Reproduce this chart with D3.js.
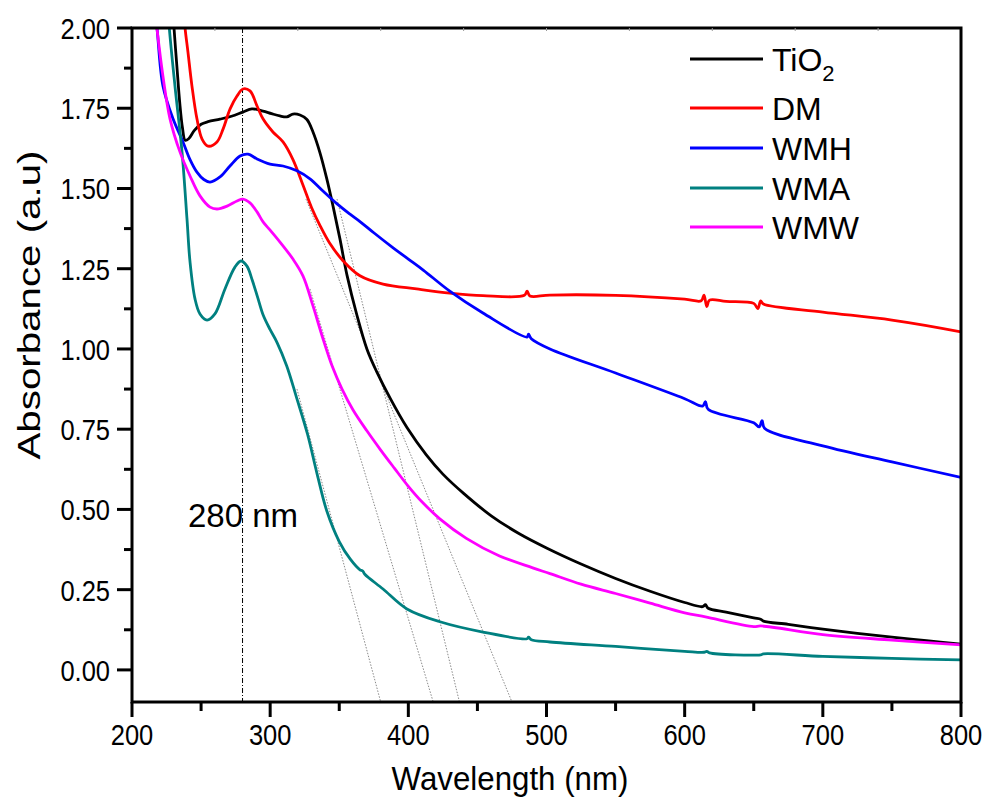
<!DOCTYPE html>
<html>
<head>
<meta charset="utf-8">
<script src="https://cdn.jsdelivr.net/npm/d3@7"></script>
<style>
  html, body { margin: 0; padding: 0; background: #fff; }
  svg { display: block; }
  text { font-family: "Liberation Sans", Arial, Helvetica, sans-serif; fill: #000; }
</style>
</head>
<body>
<svg id="chart" width="987" height="801"></svg>
<script>
// ---------------- DATA ----------------
const seriesNames = ["TiO2", "DM", "WMH", "WMA", "WMW"];
const seriesColors = ["#000000", "#ff0000", "#0000ff", "#008080", "#ff00ff"];

const tio2 = [[229,2.1],[230.4,2.0],[232.5,1.88],[234.5,1.77],[236.5,1.69],[238.5,1.65],[241,1.655],[245,1.68],[250,1.70],[255,1.708],[263.7,1.716],[272,1.725],[280.3,1.738],[286.8,1.748],[294.8,1.741],[301,1.733],[307,1.726],[312,1.723],[316.5,1.732],[321.6,1.729],[326.6,1.715],[331,1.676],[336,1.612],[341,1.53],[345.5,1.445],[350.5,1.343],[355.6,1.23],[362.8,1.105],[370,1.0],[377,0.93],[387,0.845],[399,0.755],[413,0.67],[425,0.61],[440,0.55],[460,0.48],[480,0.425],[500,0.38],[525,0.33],[550,0.285],[575,0.245],[600,0.21],[613,0.197],[615,0.203],[617,0.192],[630,0.18],[650,0.162],[655,0.158],[657,0.152],[675,0.142],[700,0.127],[725,0.114],[750,0.102],[775,0.091],[800,0.08]];

const dm = [[236.5,2.1],[238.4,2.0],[240.5,1.925],[243.4,1.819],[247,1.717],[250.7,1.654],[255,1.632],[261.5,1.645],[265.9,1.685],[271,1.748],[276,1.788],[280.3,1.810],[285.4,1.804],[290.5,1.757],[294.8,1.717],[302,1.676],[309.3,1.645],[316.5,1.59],[323.8,1.51],[330,1.44],[336,1.385],[343,1.33],[352.7,1.275],[365,1.228],[381.7,1.202],[406,1.187],[430,1.174],[454,1.166],[484,1.167],[486,1.18],[488,1.165],[502.5,1.168],[550,1.167],[600,1.155],[612,1.15],[614,1.168],[616,1.132],[618,1.152],[630,1.148],[650,1.142],[653,1.126],[655,1.15],[657,1.14],[700,1.115],[750,1.09],[800,1.053]];

const wmh = [[215.5,2.1],[218.1,2.0],[222.4,1.819],[229.7,1.717],[236.9,1.645],[242,1.59],[247,1.551],[252,1.528],[256.5,1.52],[263.7,1.536],[270.9,1.570],[278.2,1.601],[284,1.607],[290.5,1.592],[299.9,1.576],[309.3,1.570],[319.4,1.555],[328.8,1.530],[338.2,1.492],[348.4,1.452],[357.8,1.42],[365,1.397],[375,1.362],[389,1.315],[400,1.28],[411,1.245],[430,1.18],[454,1.112],[485.9,1.037],[487,1.046],[489,1.032],[502.5,1.0],[550,0.925],[600,0.845],[613,0.822],[615,0.836],[617,0.812],[650,0.77],[654,0.757],[656,0.777],[658,0.752],[700,0.698],[750,0.648],[800,0.60]];

const wma = [[225.5,2.1],[227,2.0],[231.1,1.819],[236.2,1.614],[239.8,1.405],[242,1.271],[245.6,1.156],[249.2,1.109],[254.3,1.09],[260,1.109],[267.3,1.187],[274.5,1.255],[278.9,1.274],[283.2,1.258],[287,1.215],[291,1.16],[295,1.105],[300,1.06],[305,1.02],[312,0.947],[319,0.85],[327,0.735],[334,0.61],[341,0.495],[350,0.40],[358,0.345],[365,0.312],[367,0.308],[368.5,0.298],[381.7,0.252],[399,0.19],[422.9,0.150],[454,0.118],[485.9,0.097],[487,0.102],[489,0.094],[502.5,0.087],[550,0.073],[600,0.058],[614,0.055],[616,0.058],[618,0.053],[655,0.047],[657,0.05],[700,0.042],[750,0.036],[800,0.031]];

const wmw = [[215.5,2.1],[218.1,1.997],[222.4,1.85],[227.5,1.717],[234.7,1.614],[242,1.539],[249.2,1.477],[256.5,1.442],[261.5,1.436],[268.8,1.445],[276,1.461],[280.3,1.467],[285.4,1.455],[290.5,1.427],[295,1.395],[300,1.37],[307.1,1.333],[316.5,1.280],[323.8,1.227],[331,1.134],[338,1.035],[345,0.945],[352,0.875],[360,0.81],[370,0.745],[380,0.685],[390,0.628],[400,0.572],[410,0.523],[423,0.47],[442,0.41],[466,0.355],[490,0.318],[502.5,0.30],[525,0.267],[550,0.238],[575,0.208],[600,0.178],[615,0.165],[650,0.135],[655,0.137],[700,0.110],[750,0.093],[800,0.078]];

const seriesData = [tio2, dm, wmh, wma, wmw];

// tangent (band-edge) extrapolation lines: [start point, x-axis intercept]
const tangentLines = [
  [[319.4, 0.875], [380, -0.1]],
  [[328.8, 1.187], [418, -0.1]],
  [[348.4, 1.467], [437, -0.1]],
  [[325.9, 1.467], [475, -0.1]]
];

const markerWavelength = 280;
const markerLabel = "280 nm";

const xMajorTicks = [200, 300, 400, 500, 600, 700, 800];
const xMinorTicks = [250, 350, 450, 550, 650, 750];
const yMajorTicks = [0, 0.25, 0.5, 0.75, 1.0, 1.25, 1.5, 1.75, 2.0];
const yMinorTicks = [0.125, 0.375, 0.625, 0.875, 1.125, 1.375, 1.625, 1.875];
const topTicks = [260, 320, 380, 440, 500, 560, 620, 680, 740];

const xTitle = "Wavelength (nm)";
const yTitle = "Absorbance (a.u)";

// ---------------- LAYOUT ----------------
const L = 132, R = 961, T = 28, B = 702;
const svg = d3.select("#chart");
const x = d3.scaleLinear().domain([200, 800]).range([L, R]);
const y = d3.scaleLinear().domain([-0.1, 2.0]).range([B, T]);

svg.append("defs").append("clipPath").attr("id", "clip")
  .append("rect").attr("x", L).attr("y", T).attr("width", R - L).attr("height", B - T);

const plot = svg.append("g").attr("clip-path", "url(#clip)");

// tangent dotted lines
plot.selectAll(".tan").data(tangentLines).enter().append("line")
  .attr("x1", d => x(d[0][0])).attr("y1", d => y(d[0][1]))
  .attr("x2", d => x(d[1][0])).attr("y2", d => y(d[1][1]))
  .attr("stroke", "#8a8a8a").attr("stroke-width", 1).attr("stroke-dasharray", "1.5,1.5");

// 280 nm marker line
plot.append("line")
  .attr("x1", x(markerWavelength)).attr("x2", x(markerWavelength))
  .attr("y1", T).attr("y2", B)
  .attr("stroke", "#000").attr("stroke-width", 1).attr("stroke-dasharray", "5,2,1,2");

// curves
const line = d3.line().x(d => x(d[0])).y(d => y(d[1])).curve(d3.curveCatmullRom.alpha(0.5));
seriesData.forEach((s, i) => {
  plot.append("path").datum(s)
    .attr("d", line).attr("fill", "none")
    .attr("stroke", seriesColors[i]).attr("stroke-width", 2.8)
    .attr("stroke-linejoin", "round");
});

// frame
svg.append("rect").attr("x", L).attr("y", T).attr("width", R - L).attr("height", B - T)
  .attr("fill", "none").attr("stroke", "#000").attr("stroke-width", 3);

// top tiny ticks
svg.selectAll(".tt").data(topTicks).enter().append("line")
  .attr("x1", d => x(d)).attr("x2", d => x(d)).attr("y1", T).attr("y2", T + 3)
  .attr("stroke", "#999").attr("stroke-width", 1);

// x ticks
svg.selectAll(".xM").data(xMajorTicks).enter().append("line")
  .attr("x1", d => x(d)).attr("x2", d => x(d)).attr("y1", B).attr("y2", B + 15)
  .attr("stroke", "#000").attr("stroke-width", 3);
svg.selectAll(".xm").data(xMinorTicks).enter().append("line")
  .attr("x1", d => x(d)).attr("x2", d => x(d)).attr("y1", B).attr("y2", B + 9)
  .attr("stroke", "#000").attr("stroke-width", 3);
// y ticks
svg.selectAll(".yM").data(yMajorTicks).enter().append("line")
  .attr("x1", L - 15).attr("x2", L).attr("y1", d => y(d)).attr("y2", d => y(d))
  .attr("stroke", "#000").attr("stroke-width", 3);
svg.selectAll(".ym").data(yMinorTicks).enter().append("line")
  .attr("x1", L - 8).attr("x2", L).attr("y1", d => y(d)).attr("y2", d => y(d))
  .attr("stroke", "#000").attr("stroke-width", 3);

function label(px, py, str, anchor, size, sx) {
  svg.append("text")
    .attr("transform", `translate(${px},${py}) scale(${sx},1)`)
    .attr("text-anchor", anchor).attr("font-size", size).text(str);
}
xMajorTicks.forEach(v => label(x(v), 745, d3.format("d")(v), "middle", 30, 0.85));
yMajorTicks.forEach(v => label(110, y(v) + 11, d3.format(".2f")(v), "end", 30, 0.85));

// axis titles
svg.append("text").attr("transform", "translate(510,790) scale(0.92,1)").attr("text-anchor", "middle")
  .attr("font-size", 34).text(xTitle);
svg.append("text").attr("transform", "translate(40,305) rotate(-90) scale(1.3,1)")
  .attr("text-anchor", "middle").attr("font-size", 31).text(yTitle);

// marker label
svg.append("text").attr("x", 188).attr("y", 527).attr("font-size", 33).text(markerLabel);

// legend
const legendY = [59, 108, 148, 188, 227];
seriesNames.forEach((n, i) => {
  svg.append("line").attr("x1", 690).attr("x2", 763)
    .attr("y1", legendY[i]).attr("y2", legendY[i])
    .attr("stroke", seriesColors[i]).attr("stroke-width", 3);
  const t = svg.append("text").attr("x", 772).attr("y", legendY[i] + 12).attr("font-size", 32);
  if (n === "TiO2") {
    t.append("tspan").text("TiO");
    t.append("tspan").attr("font-size", 22).attr("dy", 10).text("2");
  } else {
    t.text(n);
  }
});
</script>
</body>
</html>
